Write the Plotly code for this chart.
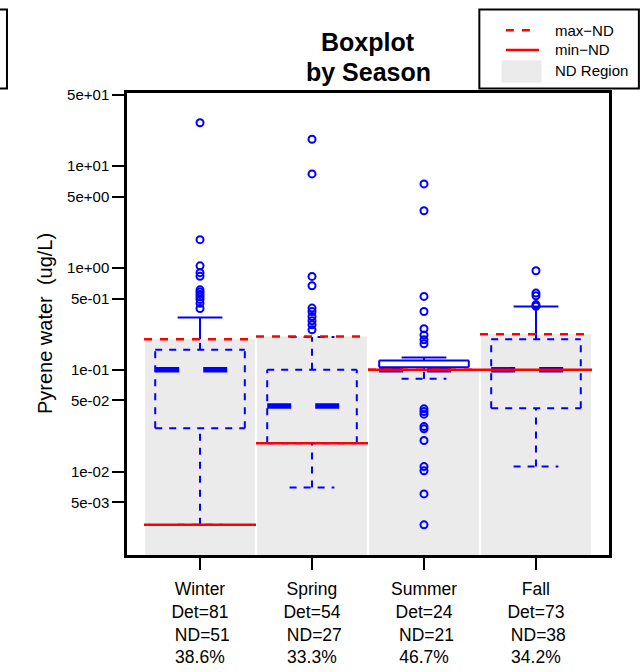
import plotly.graph_objects as go

# 계절별 데이터
seasons = ["Winter", "Spring", "Summer", "Fall"]
det = [81, 54, 24, 73]
nd = [51, 27, 21, 38]
nd_pct = ["38.6%", "33.3%", "46.7%", "34.2%"]

# ND 한계
max_nd = [0.2, 0.212, 0.1, 0.224]
min_nd = [0.003, 0.019, 0.1, 0.1]

# 박스플롯 통계
q1 = [0.0267, 0.019, 0.106, 0.042]
med = [0.1, 0.044, 0.1, 0.1]
q3 = [0.157, 0.1, 0.1235, 0.2]
whis_lo = [0.003, 0.007, 0.0815, 0.0112]
whis_hi = [0.326, 0.21, 0.132, 0.419]

# 이상치
outliers = [
    [26.7, 1.9, 1.05, 0.9, 0.83, 0.61, 0.58, 0.55, 0.52, 0.49, 0.45, 0.40],
    [18.4, 8.4, 0.827, 0.67, 0.404, 0.374, 0.334, 0.303, 0.277, 0.247],
    [6.7, 3.65, 0.526, 0.374, 0.253, 0.22, 0.197, 0.18,
     0.0414, 0.039, 0.0367, 0.0277, 0.0263, 0.0202, 0.0112, 0.0102, 0.00604, 0.003],
    [0.94, 0.567, 0.534, 0.437, 0.42],
]

y_ticks = [50, 10, 5, 1, 0.5, 0.1, 0.05, 0.01, 0.005]
y_ticktext = ["5e+01", "1e+01", "5e+00", "1e+00", "5e-01", "1e-01", "5e-02", "1e-02", "5e-03"]

FONT = "Liberation Sans, Arial, sans-serif"
BLUE = "#0000ff"
RED = "#ff0000"
GRAY = "#ebebeb"

fig = go.Figure()
pos = [1, 2, 3, 4]

# ND 영역
for i, p in enumerate(pos):
    fig.add_trace(go.Scatter(x=[p - 0.49, p + 0.49, p + 0.49, p - 0.49, p - 0.49],
                             y=[1e-4, 1e-4, max_nd[i], max_nd[i], 1e-4],
                             mode="lines", fill="toself", fillcolor=GRAY,
                             line=dict(width=0), hoverinfo="skip"))

# 박스 선 (ND 아래는 점선, 위는 실선)
solid_x, solid_y, dash_x, dash_y = [], [], [], []


def add_seg(xs, ys, dashed):
    if dashed:
        dash_x.extend(xs + [None])
        dash_y.extend(ys + [None])
    else:
        solid_x.extend(xs + [None])
        solid_y.extend(ys + [None])


def vseg(x, a, b, mx):
    lo, hi = min(a, b), max(a, b)
    if hi <= mx:
        add_seg([x, x], [lo, hi], True)
    elif lo >= mx:
        add_seg([x, x], [lo, hi], False)
    else:
        add_seg([x, x], [lo, mx], True)
        add_seg([x, x], [mx, hi], False)


def hseg(x0, x1, v, mx):
    add_seg([x0, x1], [v, v], v <= mx)


for i, p in enumerate(pos):
    mx = max_nd[i]
    bw, sw = 0.4, 0.2
    # 박스
    hseg(p - bw, p + bw, q3[i], mx)
    hseg(p - bw, p + bw, q1[i], mx)
    vseg(p - bw, q1[i], q3[i], mx)
    vseg(p + bw, q1[i], q3[i], mx)
    # 수염
    vseg(p, q3[i], whis_hi[i], mx)
    vseg(p, whis_lo[i], q1[i], mx)
    hseg(p - sw, p + sw, whis_hi[i], mx)
    hseg(p - sw, p + sw, whis_lo[i], mx)

fig.add_trace(go.Scatter(x=dash_x, y=dash_y, mode="lines",
                         line=dict(color=BLUE, width=2, dash="7px,7px"), hoverinfo="skip"))
fig.add_trace(go.Scatter(x=solid_x, y=solid_y, mode="lines",
                         line=dict(color=BLUE, width=2), hoverinfo="skip"))

# 중앙값
for i, p in enumerate(pos):
    fig.add_trace(go.Scatter(x=[p - 0.4, p + 0.4], y=[med[i], med[i]], mode="lines",
                             line=dict(color=BLUE, width=5.5,
                                       dash="24px,24px" if med[i] <= max_nd[i] else "solid"),
                             hoverinfo="skip"))

# 이상치
for i, p in enumerate(pos):
    fig.add_trace(go.Scatter(x=[p] * len(outliers[i]), y=outliers[i], mode="markers",
                             marker=dict(symbol="circle-open", size=7, color=BLUE,
                                         line=dict(width=2, color=BLUE)),
                             hoverinfo="skip"))

# max-ND / min-ND 선
for i, p in enumerate(pos):
    fig.add_trace(go.Scatter(x=[p - 0.5, p + 0.5], y=[max_nd[i], max_nd[i]], mode="lines",
                             line=dict(color=RED, width=2.5, dash="8px,8px"), hoverinfo="skip"))
for i, p in enumerate(pos):
    fig.add_trace(go.Scatter(x=[p - 0.5, p + 0.5], y=[min_nd[i], min_nd[i]], mode="lines",
                             line=dict(color=RED, width=2.5), hoverinfo="skip"))

# x축 라벨
for i, p in enumerate(pos):
    txt = f"{seasons[i]}<br>Det={det[i]}<br>\u00a0ND={nd[i]}<br>{nd_pct[i]}"
    fig.add_annotation(x=p, y=-0.047, xref="x", yref="paper", text=txt, showarrow=False,
                       xanchor="center", yanchor="top", align="center",
                       font=dict(family=FONT, size=17.5, color="black"))

# 제목
fig.add_annotation(x=0.5, y=1.110, xref="paper", yref="paper", text="<b>Boxplot</b>",
                   showarrow=False, xanchor="center", yanchor="middle",
                   font=dict(family=FONT, size=25, color="black"))
fig.add_annotation(x=0.5, y=1.045, xref="paper", yref="paper", text="<b>by Season</b>",
                   showarrow=False, xanchor="center", yanchor="middle",
                   font=dict(family=FONT, size=25, color="black"))

# y축 제목
fig.add_annotation(x=-0.170, y=0.5, xref="paper", yref="paper",
                   text="Pyrene water\u00a0 (ug/L)", textangle=-90, showarrow=False,
                   xanchor="center", yanchor="middle",
                   font=dict(family=FONT, size=20, color="black"))

# 범례 (직접 그림)
shapes = [
    dict(type="rect", xref="paper", yref="paper", x0=0.731, x1=1.062, y0=1.010, y1=1.181,
         line=dict(color="black", width=2), fillcolor="white", layer="above"),
    dict(type="rect", xref="paper", yref="paper", x0=-0.30, x1=-0.249, y0=1.010, y1=1.181,
         line=dict(color="black", width=2), fillcolor="white", layer="above"),
    dict(type="line", xref="paper", yref="paper", x0=0.786, x1=0.836, y0=1.136, y1=1.136,
         line=dict(color=RED, width=2.5, dash="8px,8px")),
    dict(type="line", xref="paper", yref="paper", x0=0.786, x1=0.855, y0=1.093, y1=1.093,
         line=dict(color=RED, width=2.5)),
    dict(type="rect", xref="paper", yref="paper", x0=0.777, x1=0.860, y0=1.022, y1=1.071,
         line=dict(width=0), fillcolor=GRAY),
]
for lbl, yy in zip(["max\u2212ND", "min\u2212ND", "ND Region"], [1.136, 1.095, 1.048]):
    fig.add_annotation(x=0.884, y=yy, xref="paper", yref="paper", text=lbl, showarrow=False,
                       xanchor="left", yanchor="middle",
                       font=dict(family=FONT, size=15, color="black"))

fig.update_layout(
    width=640, height=672,
    margin=dict(l=127, r=31, t=93, b=117),
    plot_bgcolor="white", paper_bgcolor="white",
    showlegend=False,
    shapes=shapes,
    font=dict(family=FONT, color="black"),
    xaxis=dict(range=[0.348, 4.652], tickvals=pos, showticklabels=False,
               ticks="outside", ticklen=12, tickwidth=2, tickcolor="black",
               showgrid=False, zeroline=False, showline=True, mirror=True,
               linecolor="black", linewidth=2.5),
    yaxis=dict(type="log", range=[-2.819, 1.719], tickvals=y_ticks, ticktext=y_ticktext,
               ticks="outside", ticklen=12, tickwidth=2, tickcolor="black",
               tickfont=dict(family=FONT, size=15, color="black"),
               showgrid=False, zeroline=False, showline=True, mirror=True,
               linecolor="black", linewidth=2.5),
)

# 페이지 기본 여백 제거, 모드바 숨김
fig.write_html("out.html", config={"displayModeBar": False},
               post_script="document.body.style.margin='0';")
